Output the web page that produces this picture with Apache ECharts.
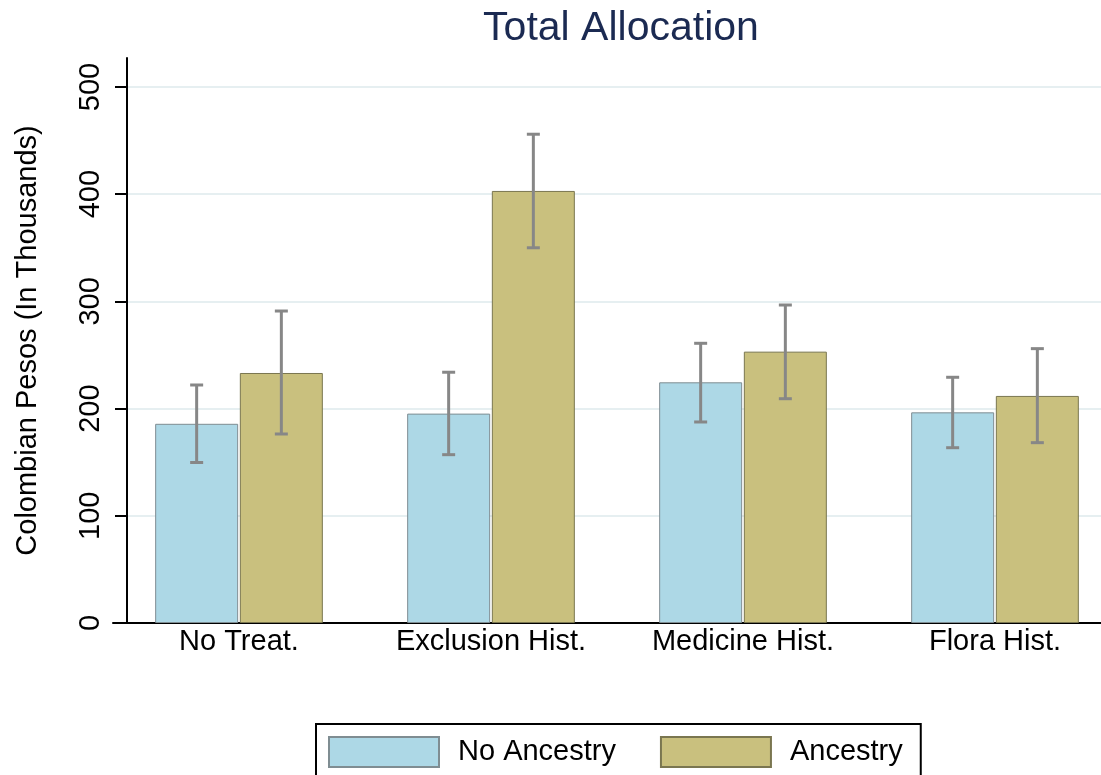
<!DOCTYPE html>
<html><head><meta charset="utf-8">
<script src="https://cdn.jsdelivr.net/npm/echarts@6/dist/echarts.min.js"></script>
<style>html,body{margin:0;padding:0;background:#fff}#c{width:1101px;height:775px}</style>
</head><body><div id="c"></div>
<script>
const categories = ['No Treat.', 'Exclusion Hist.', 'Medicine Hist.', 'Flora Hist.'];
const noAncestry = [185.8, 195.3, 224.5, 196.5];
const noAncestryLow = [149.7, 157.0, 187.5, 163.5];
const noAncestryHigh = [222.0, 233.9, 260.9, 229.2];
const ancestry = [233.2, 403.0, 253.1, 211.8];
const ancestryLow = [176.3, 350.0, 209.2, 168.2];
const ancestryHigh = [291.0, 455.9, 296.6, 255.9];
const yTicks = [0, 100, 200, 300, 400, 500];
const yMax = 527;

const FONT = '"Liberation Sans", Arial, Helvetica, sans-serif';
const BAR_W = 83;
const BAR_GAP_PX = 1.7;

function errRender(sign) {
  return function (params, api) {
    const i = api.value(0);
    const lo = api.coord([i, api.value(1)]);
    const hi = api.coord([i, api.value(2)]);
    const cx = lo[0] + sign * (BAR_W / 2 + BAR_GAP_PX / 2);
    const cap = 6.5;
    const style = { stroke: '#878787', lineWidth: 3 };
    return {
      type: 'group',
      children: [
        { type: 'line', shape: { x1: cx, y1: hi[1], x2: cx, y2: lo[1] }, style: style },
        { type: 'line', shape: { x1: cx - cap, y1: hi[1], x2: cx + cap, y2: hi[1] }, style: style },
        { type: 'line', shape: { x1: cx - cap, y1: lo[1], x2: cx + cap, y2: lo[1] }, style: style }
      ]
    };
  };
}

const chart = echarts.init(document.getElementById('c'), null, { renderer: 'canvas' });
chart.setOption({
  animation: false,
  backgroundColor: '#ffffff',
  textStyle: { fontFamily: FONT },
  title: {
    text: 'Total Allocation',
    left: 616, top: 3, textAlign: 'center',
    textStyle: { fontFamily: FONT, fontSize: 41, fontWeight: 'normal', color: '#1b2a52' }
  },
  legend: {
    data: ['No Ancestry', 'Ancestry'],
    left: 316, top: 724,
    orient: 'horizontal',
    itemWidth: 110, itemHeight: 30, itemGap: 44,
    icon: 'rect',
    borderColor: '#000', borderWidth: 2,
    padding: [12, 18, 12, 12],
    textStyle: { fontFamily: FONT, fontSize: 29, color: '#000', padding: [0, 0, 0, 14] }
  },
  grid: [
    { left: 127, right: 0, top: 58, bottom: 152, containLabel: false, outerBoundsMode: 'none' },
    { left: 113, width: 1008, top: 58, bottom: 152, containLabel: false, outerBoundsMode: 'none' }
  ],
  xAxis: [
    { gridIndex: 0, type: 'value', show: false, min: 0, max: 1 },
    {
      gridIndex: 1, type: 'category', data: categories,
      axisLine: { show: true, lineStyle: { color: '#000', width: 2 } },
      axisTick: { show: false },
      axisLabel: { fontFamily: FONT, fontSize: 29, color: '#000', margin: 4, interval: 0, hideOverlap: false },
      splitLine: { show: false }
    }
  ],
  yAxis: [
    {
      gridIndex: 0, type: 'value', min: 0, max: yMax,
      name: 'Colombian Pesos (In Thousands)',
      nameLocation: 'middle', nameRotate: 90, nameGap: 85,
      nameTextStyle: { fontFamily: FONT, fontSize: 29, color: '#000' },
      axisLine: { show: true, lineStyle: { color: '#000', width: 2 } },
      axisTick: { show: true, length: 12, inside: false, customValues: yTicks, lineStyle: { color: '#000', width: 2 } },
      axisLabel: { show: true, rotate: 90, fontFamily: FONT, fontSize: 29, color: '#000', margin: 22, customValues: yTicks },
      splitLine: { show: true, lineStyle: { color: '#e6eff1', width: 2 } }
    },
    { gridIndex: 1, type: 'value', min: 0, max: yMax, show: false, splitLine: { show: false } }
  ],
  series: [
    {
      name: 'No Ancestry', type: 'bar', xAxisIndex: 1, yAxisIndex: 1,
      data: noAncestry, barWidth: BAR_W, barGap: '2%',
      itemStyle: { color: '#add8e6', borderColor: '#7f8d92', borderWidth: 1 }
    },
    {
      name: 'Ancestry', type: 'bar', xAxisIndex: 1, yAxisIndex: 1,
      data: ancestry, barWidth: BAR_W, barGap: '2%',
      itemStyle: { color: '#c9c07e', borderColor: '#7a7650', borderWidth: 1 }
    },
    {
      name: 'errNo', type: 'custom', xAxisIndex: 1, yAxisIndex: 1, z: 5,
      renderItem: errRender(-1),
      data: categories.map((c, i) => [i, noAncestryLow[i], noAncestryHigh[i]])
    },
    {
      name: 'errAnc', type: 'custom', xAxisIndex: 1, yAxisIndex: 1, z: 5,
      renderItem: errRender(1),
      data: categories.map((c, i) => [i, ancestryLow[i], ancestryHigh[i]])
    }
  ]
});
</script>
</body></html>
